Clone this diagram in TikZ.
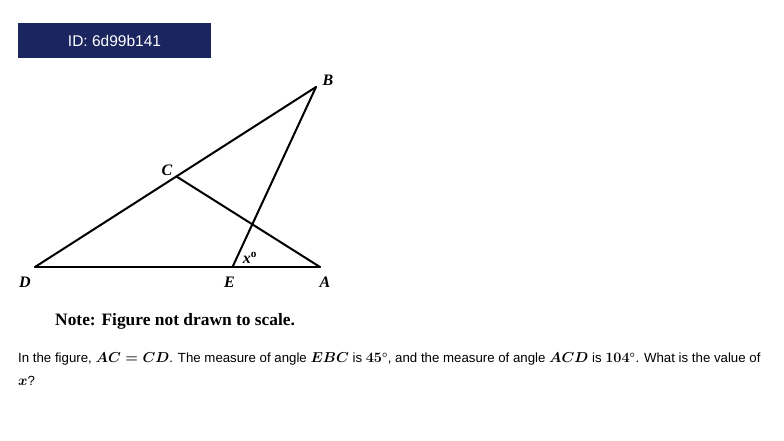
\documentclass[tikz,border=0pt]{standalone}
\usepackage{amsmath}
\usepackage{fontspec}
\setmainfont{Liberation Sans}
\newfontfamily\figfont{Liberation Serif}
\usetikzlibrary{positioning}
\definecolor{idnavy}{RGB}{27,37,95}

\begin{document}
\begin{tikzpicture}[x=1pt, y=-1pt,
	seg/.style={line width=2pt, line cap=round},
	ptlabel/.style={font=\figfont\bfseries\itshape\fontsize{16}{16}\selectfont, inner sep=0pt},
	question/.style={anchor=west, inner sep=0pt, font=\fontsize{13.25}{13.25}\selectfont\boldmath}]
	\useasboundingbox (0,0) rectangle (784,441);
	\node [fill=idnavy, minimum width=193pt, minimum height=35pt, inner sep=0pt,%
				text=white, font=\fontsize{15.5}{15.5}\selectfont] (id) at (114.5,40.5) {ID: 6d99b141};
	% triangle
	\coordinate (D) at (35,267);
	\coordinate (A) at (320,267);
	\coordinate (B) at (316,87);
	\coordinate (C) at (176.5,176.5);
	\coordinate (E) at (232.5,267);
	\draw [seg] (D) -- (A);
	\draw [seg] (D) -- (B);
	\draw [seg] (C) -- (A);
	\draw [seg] (E) -- (B);
	\node [ptlabel] (lB) at (328,80) {B};
	\node [ptlabel] (lC) at (167,170) {C};
	\node [ptlabel] (lD) at (25,282) {D};
	\node [ptlabel] (lE) at (229.5,282) {E};
	\node [ptlabel] (lA) at (325,282) {A};
	\node [ptlabel] (lx) at (250,258) {x\textsuperscript{\upshape o}};
	% texts
	\node [anchor=west, inner sep=0pt, font=\figfont\bfseries\fontsize{17.4}{17.4}\selectfont]%
				(note) at (55,321) {Note: Figure not drawn to scale.};
	\node [question] (q1) at (18,359) {In the figure, $AC = CD$. The measure of angle $EBC$ is $45^{\circ}$, and the measure of angle $ACD$ is $104^{\circ}$. What is the value of};
	\node [question] (q2) at (18,381) {$x$?};
\end{tikzpicture}
\end{document}
